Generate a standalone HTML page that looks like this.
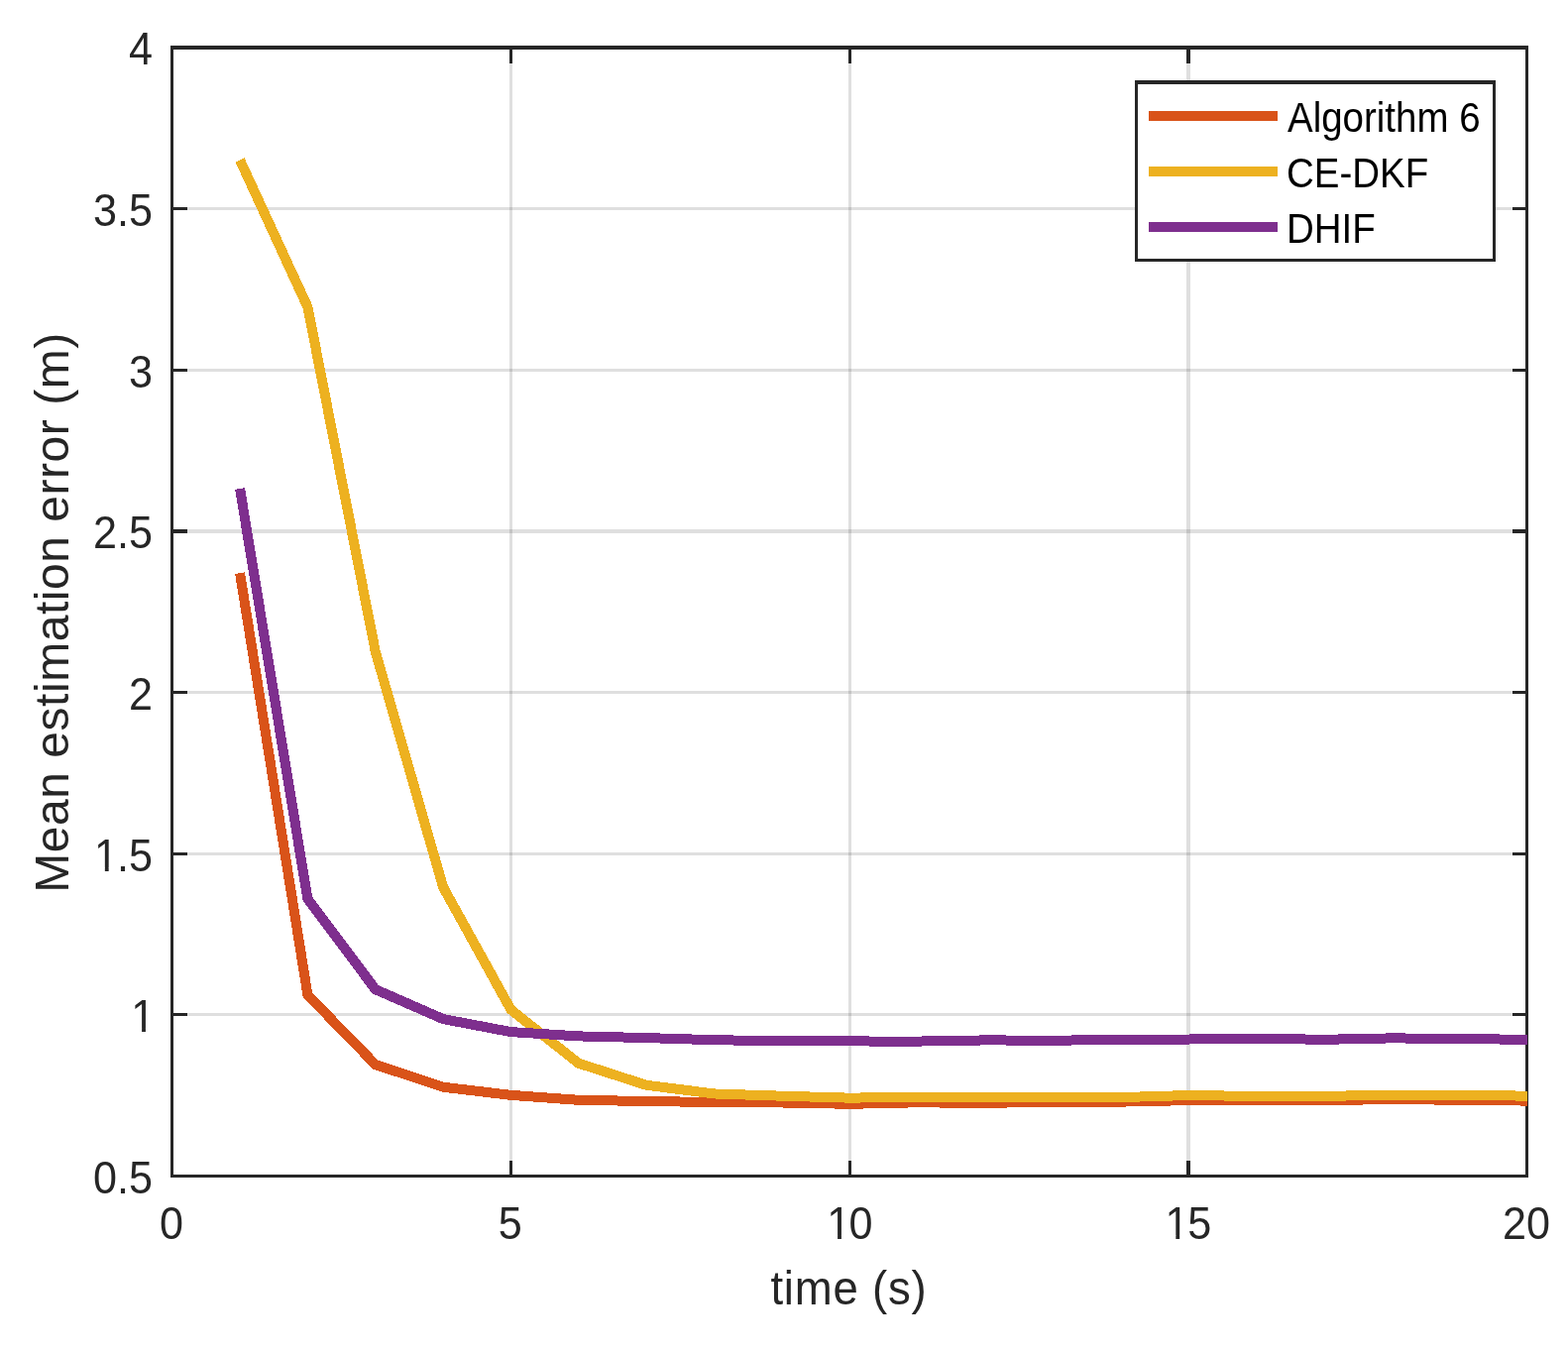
<!DOCTYPE html>
<html lang="en">
<head>
<meta charset="utf-8">
<title>Mean estimation error</title>
<style>
html,body{margin:0;padding:0;background:#fff;}
body{width:1582px;height:1364px;overflow:hidden;}
svg{display:block;}
text{font-family:"Liberation Sans",sans-serif;}
.tk,.lb{fill:#262626;}
.lg{fill:#000;}
</style>
</head>
<body>
<svg width="1582" height="1364" viewBox="0 0 1582 1364">
<rect x="0" y="0" width="1582" height="1364" fill="#ffffff"/>
<g shape-rendering="crispEdges" fill="#dfdfdf">
<rect x="514" y="50" width="3" height="1135"/>
<rect x="856" y="50" width="3" height="1135"/>
<rect x="1197" y="50" width="4" height="1135"/>
<rect x="175" y="1022" width="1364" height="3"/>
<rect x="175" y="860" width="1364" height="3"/>
<rect x="175" y="697" width="1364" height="3"/>
<rect x="175" y="534" width="1364" height="4"/>
<rect x="175" y="372" width="1364" height="3"/>
<rect x="175" y="209" width="1364" height="3"/>
<rect x="514" y="1022" width="3" height="3" fill="#c3c3c3"/>
<rect x="514" y="860" width="3" height="3" fill="#c3c3c3"/>
<rect x="514" y="697" width="3" height="3" fill="#c3c3c3"/>
<rect x="514" y="534" width="3" height="4" fill="#c3c3c3"/>
<rect x="514" y="372" width="3" height="3" fill="#c3c3c3"/>
<rect x="514" y="209" width="3" height="3" fill="#c3c3c3"/>
<rect x="856" y="1022" width="3" height="3" fill="#c3c3c3"/>
<rect x="856" y="860" width="3" height="3" fill="#c3c3c3"/>
<rect x="856" y="697" width="3" height="3" fill="#c3c3c3"/>
<rect x="856" y="534" width="3" height="4" fill="#c3c3c3"/>
<rect x="856" y="372" width="3" height="3" fill="#c3c3c3"/>
<rect x="856" y="209" width="3" height="3" fill="#c3c3c3"/>
<rect x="1197" y="1022" width="4" height="3" fill="#c3c3c3"/>
<rect x="1197" y="860" width="4" height="3" fill="#c3c3c3"/>
<rect x="1197" y="697" width="4" height="3" fill="#c3c3c3"/>
<rect x="1197" y="534" width="4" height="4" fill="#c3c3c3"/>
<rect x="1197" y="372" width="4" height="3" fill="#c3c3c3"/>
<rect x="1197" y="209" width="4" height="3" fill="#c3c3c3"/>
</g>
<g shape-rendering="crispEdges" fill="#262626">
<rect x="514" y="1171" width="3" height="14"/>
<rect x="514" y="50" width="3" height="14"/>
<rect x="856" y="1171" width="3" height="14"/>
<rect x="856" y="50" width="3" height="14"/>
<rect x="1197" y="1171" width="4" height="14"/>
<rect x="1197" y="50" width="4" height="14"/>
<rect x="175" y="1022" width="14" height="3"/>
<rect x="1526" y="1022" width="13" height="3"/>
<rect x="175" y="860" width="14" height="3"/>
<rect x="1526" y="860" width="13" height="3"/>
<rect x="175" y="697" width="14" height="3"/>
<rect x="1526" y="697" width="13" height="3"/>
<rect x="175" y="534" width="14" height="4"/>
<rect x="1526" y="534" width="13" height="4"/>
<rect x="175" y="372" width="14" height="3"/>
<rect x="1526" y="372" width="13" height="3"/>
<rect x="175" y="209" width="14" height="3"/>
<rect x="1526" y="209" width="13" height="3"/>
<rect x="172" y="46" width="1370" height="4"/>
<rect x="172" y="1185" width="1370" height="3"/>
<rect x="172" y="46" width="3" height="1142"/>
<rect x="1539" y="46" width="3" height="1142"/>
</g>
<g shape-rendering="crispEdges" fill="none" stroke-width="10" stroke-linejoin="miter" stroke-linecap="butt">
<polyline stroke="#D95319" points="242.05,578.22 310.40,1003.77 378.75,1074.00 447.10,1096.72 515.45,1104.85 583.80,1109.83 652.15,1111.03 720.50,1112.01 788.85,1112.50 857.20,1113.80 925.55,1112.29 993.90,1112.96 1062.25,1111.60 1130.60,1111.63 1198.95,1110.11 1267.30,1110.00 1335.65,1109.93 1404.00,1109.20 1472.35,1109.70 1541.00,1110.60"/>
<polyline stroke="#EDB120" points="242.05,161.52 310.40,309.69 378.75,657.26 447.10,895.04 515.45,1018.65 583.80,1072.75 652.15,1094.77 720.50,1103.47 788.85,1105.69 857.20,1107.65 925.55,1106.72 993.90,1106.90 1062.25,1107.00 1130.60,1107.09 1198.95,1105.02 1267.30,1105.95 1335.65,1105.80 1404.00,1104.88 1472.35,1105.00 1541.00,1105.61"/>
<polyline stroke="#7E2F8E" points="242.05,492.99 310.40,906.92 378.75,998.16 447.10,1028.09 515.45,1041.10 583.80,1045.40 652.15,1047.08 720.50,1049.21 788.85,1050.25 857.20,1050.47 925.55,1050.59 993.90,1049.42 1062.25,1049.70 1130.60,1049.01 1198.95,1048.53 1267.30,1047.70 1335.65,1048.82 1404.00,1047.39 1472.35,1048.00 1541.00,1048.86"/>
</g>
<g shape-rendering="crispEdges">
<rect x="1145" y="81" width="364" height="183" fill="#262626"/>
<rect x="1148" y="85" width="358" height="176" fill="#ffffff"/>
<rect x="1159" y="112" width="130" height="10" fill="#D95319"/>
<rect x="1159" y="168" width="130" height="10" fill="#EDB120"/>
<rect x="1159" y="224" width="130" height="10" fill="#7E2F8E"/>
</g>
<text class="tk" font-size="46" transform="translate(130,65) scale(0.938,1)">4</text>
<text class="tk" font-size="46" transform="translate(94,228) scale(0.938,1)">3.5</text>
<text class="tk" font-size="46" transform="translate(130,391) scale(0.938,1)">3</text>
<text class="tk" font-size="46" transform="translate(94,553) scale(0.938,1)">2.5</text>
<text class="tk" font-size="46" transform="translate(130,716) scale(0.938,1)">2</text>
<text class="tk" font-size="46" transform="translate(94,879) scale(0.938,1)" dx="1.1 -1.1 0">1.5</text>
<text class="tk" font-size="46" transform="translate(130.6,1041) scale(0.938,1)" dx="1.8">1</text>
<text class="tk" font-size="46" transform="translate(94,1204) scale(0.938,1)">0.5</text>
<text class="tk" font-size="46" transform="translate(161,1250) scale(0.938,1)">0</text>
<text class="tk" font-size="46" transform="translate(502.75,1250) scale(0.938,1)">5</text>
<text class="tk" font-size="46" transform="translate(832.5,1250) scale(0.938,1)" dx="1.8 -1.8">10</text>
<text class="tk" font-size="46" transform="translate(1174.25,1250) scale(0.938,1)" dx="1.4 -1.4">15</text>
<text class="tk" font-size="46" transform="translate(1516,1250) scale(0.938,1)">20</text>
<text class="lb" font-size="48" transform="translate(777.4,1316) scale(0.95,1)" letter-spacing="0.8">time (s)</text>
<text class="lb" font-size="48" transform="translate(69,900.7) rotate(-90) scale(1,1)" letter-spacing="0.53">Mean estimation error (m)</text>
<text class="lg" font-size="41.6" transform="translate(1299,133) scale(0.925,1)">Algorithm 6</text>
<text class="lg" font-size="41.6" transform="translate(1298,189) scale(0.925,1)">CE-DKF</text>
<text class="lg" font-size="41.6" transform="translate(1298,245) scale(0.925,1)">DHIF</text>
<rect x="97" y="875" width="8.843" height="5" fill="#ffffff"/>
<rect x="109.664" y="875" width="8.336" height="5" fill="#ffffff"/>
<rect x="134" y="1037" width="9.092" height="5" fill="#ffffff"/>
<rect x="146.917" y="1037" width="9.083" height="5" fill="#ffffff"/>
<rect x="836" y="1246" width="9.092" height="5" fill="#ffffff"/>
<rect x="848.917" y="1246" width="9.083" height="5" fill="#ffffff"/>
<rect x="1177" y="1246" width="9.341" height="5" fill="#ffffff"/>
<rect x="1190.17" y="1246" width="8.834" height="5" fill="#ffffff"/>
</svg>
</body>
</html>
